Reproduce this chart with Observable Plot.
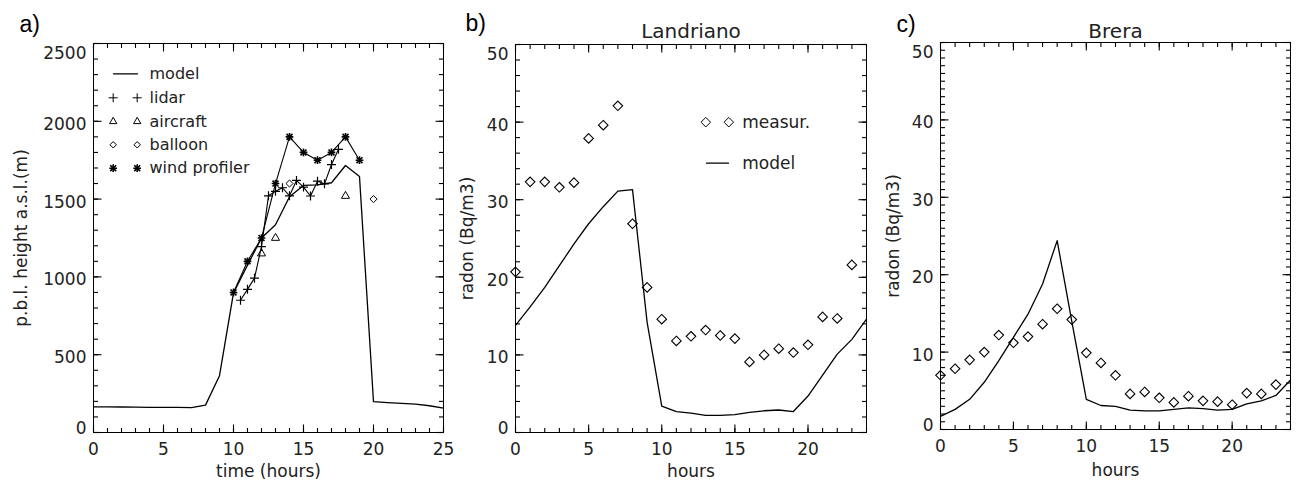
<!DOCTYPE html>
<html>
<head>
<meta charset="utf-8">
<script src="https://cdn.jsdelivr.net/npm/d3@7"></script>
<script src="https://cdn.jsdelivr.net/npm/@observablehq/plot@0.6"></script>
<style>
html, body { margin: 0; padding: 0; background: #fff; }
#chart { position: relative; width: 1296px; height: 485px; overflow: hidden; background: #fff; }
#chart > .panel { position: absolute; top: 0; }
svg { overflow: visible; }
</style>
</head>
<body>
<div id="chart"></div>
<script>
// ---------------- data ----------------
// Panel a: boundary layer height (m)
const modelHoursA = [0,1,2,3,4,5,6,7,8,9,10,11,12,13,14,15,16,17,18,19,20,21,22,23,24,25];
const pblModel    = [165,165,164,163,162,162,161,160,176,365,897,1075,1250,1335,1515,1588,1592,1605,1716,1645,198,192,187,182,172,157];
const lidarHours  = [10.5,11,11.5,12,12.5,13,13.5,14,14.5,15,15.5,16,16.5,17,17.5];
const lidarPbl    = [850,920,992,1195,1521,1550,1573,1521,1620,1577,1520,1615,1598,1722,1820];
const aircraftHours = [12,13,18];
const aircraftPbl   = [1150,1250,1520];
const balloonHours  = [14,20];
const balloonPbl    = [1600,1500];
const windHours = [10,11,12,13,14,15,16,17,18,19];
const windPbl   = [900,1100,1250,1600,1900,1800,1750,1800,1900,1750];

// Panel b: Landriano radon (Bq/m3)
const measHours = [0,1,2,3,4,5,6,7,8,9,10,11,12,13,14,15,16,17,18,19,20,21,22,23];
const modelHours = [0,1,2,3,4,5,6,7,8,9,10,11,12,13,14,15,16,17,18,19,20,21,22,23,24];
const landrianoMeas  = [20.7,32.3,32.3,31.6,32.2,37.9,39.6,42.1,26.9,18.7,14.6,11.8,12.4,13.2,12.5,12.1,9.1,10.0,10.8,10.3,11.3,14.9,14.7,21.6];
const landrianoModel = [13.8,16.2,18.7,21.5,24.3,26.9,29.1,31.1,31.3,14.2,3.4,2.7,2.5,2.2,2.2,2.3,2.6,2.8,2.9,2.7,4.7,7.4,10.1,12.0,14.6];

// Panel c: Brera radon (Bq/m3)
const breraMeas  = [7.0,7.85,9.0,10.0,12.2,11.2,12.0,13.6,15.6,14.2,9.9,8.6,7.0,4.6,4.85,4.1,3.5,4.3,3.7,3.6,3.2,4.7,4.6,5.8];
const breraModel = [1.7,2.6,3.9,6.1,8.9,11.9,14.9,18.8,24.4,14.0,3.9,3.1,3.0,2.5,2.4,2.4,2.6,2.8,2.7,2.5,2.6,3.3,3.7,4.4,6.4];

// tick values
const xMajorA = [0,5,10,15,20,25];
const xMinorA = d3.range(0, 26, 1);
const yMajorA = [0,500,1000,1500,2000,2500];
const yMinorA = d3.range(0, 2501, 100);
const xMajorR = [0,5,10,15,20];
const xMinorR = d3.range(0, 25, 1);
const yMajorR = [0,10,20,30,40,50];
const yMinorB = d3.range(0, 51, 2);
const yMinorC = d3.range(0, 51, 1);

// legend labels
const legendA = ["model", "lidar", "aircraft", "balloon", "wind profiler"];
const legendB = ["measur.", "model"];

// ---------------- helpers ----------------
const FONT = "DejaVu Sans";
const INK = "#000";
const TXT = "#222";
const rows = (xs, ys) => xs.map((x, i) => ({x, y: ys[i]}));
const lineShape = {draw(context, l) { context.moveTo(0, 0); context.lineTo(0, -l); }};
// tick glyphs (fixed pixel length, pointing into the frame)
const seg = (dx, dy) => ({draw(context) { context.moveTo(0, 0); context.lineTo(dx, dy); }});

function frameAxes({xMajor, xMinor, yMajor, yMinor, xDom, yDom}) {
  const s = {x: "x", y: "y", stroke: INK, fill: "none", strokeWidth: 1.1};
  const yTop = yMajor[yMajor.length - 1], yBot = yMajor[0];
  const yMid = yMajor.filter(v => v !== yTop && v !== yBot);
  const lab = {tickSize: 0, label: null, fill: TXT, tickFormat: d => String(d), fontSize: 17};
  const minor = 4.5, major = 8;
  const atX = (vals, y) => vals.map(x => ({x, y}));
  const atY = (vals, x) => vals.map(y => ({x, y}));
  return [
    Plot.frame({stroke: INK, fill: "none", strokeWidth: 1}),
    Plot.dot(atX(xMinor, yDom[0]), {...s, symbol: seg(0, -minor)}),
    Plot.dot(atX(xMinor, yDom[1]), {...s, symbol: seg(0, minor)}),
    Plot.dot(atX(xMajor, yDom[0]), {...s, symbol: seg(0, -major)}),
    Plot.dot(atX(xMajor, yDom[1]), {...s, symbol: seg(0, major)}),
    Plot.dot(atY(yMinor, xDom[0]), {...s, symbol: seg(minor, 0)}),
    Plot.dot(atY(yMinor, xDom[1]), {...s, symbol: seg(-minor, 0)}),
    Plot.dot(atY(yMajor, xDom[0]), {...s, symbol: seg(major, 0)}),
    Plot.dot(atY(yMajor, xDom[1]), {...s, symbol: seg(-major, 0)}),
    Plot.axisX(xMajor, {...lab, anchor: "bottom", tickPadding: 10}),
    Plot.axisY(yMid, {...lab, anchor: "left", tickPadding: 7, dy: 3}),
    Plot.axisY([yTop], {...lab, anchor: "left", tickPadding: 7, dy: 10}),
    Plot.axisY([yBot], {...lab, anchor: "left", tickPadding: 7, dy: -4})
  ];
}

function mount(svg, left) {
  const d = document.createElement("div");
  d.className = "panel";
  d.style.left = left + "px";
  d.appendChild(svg);
  document.getElementById("chart").appendChild(d);
}

const baseStyle = {fontFamily: FONT, fontSize: "17px", color: TXT, background: "transparent", overflow: "visible"};
const txt = (s, o) => Plot.text([s], {text: d => d, fill: TXT, fontFamily: FONT, fontSize: 17, lineAnchor: "middle", ...o});

// ---------------- panel a ----------------
const model = rows(modelHoursA, pblModel);
const lidar = rows(lidarHours, lidarPbl);
const aircraft = rows(aircraftHours, aircraftPbl);
const balloon = rows(balloonHours, balloonPbl);
const wind = rows(windHours, windPbl);

const legRowsA = [30.3, 54.3, 78, 101.3, 124.7];
const symA = [null, "plus", "triangle", "diamond2", "star"];

const legendMarksA = [];
legendA.forEach((name, i) => {
  const dy = legRowsA[i];
  legendMarksA.push(txt(name, {frameAnchor: "top-left", dx: 56, dy, textAnchor: "start", fontSize: 16}));
  if (i === 0) {
    legendMarksA.push(Plot.vector([0], {frameAnchor: "top-left", dx: 20, dy, length: 24, rotate: 90, anchor: "start", shape: lineShape, stroke: INK, strokeWidth: 1.3}));
  } else {
    for (const dx of [19.7, 43.7]) {
      if (symA[i] === "star") {
        legendMarksA.push(Plot.dot([0], {frameAnchor: "top-left", dx, dy, symbol: "plus", r: 2.6, stroke: INK, strokeWidth: 1.6}));
        legendMarksA.push(Plot.dot([0], {frameAnchor: "top-left", dx, dy, symbol: "times", r: 2.8, stroke: INK, strokeWidth: 1.6}));
      } else {
        const r = symA[i] === "plus" ? 3 : symA[i] === "triangle" ? 2.7 : 2.9;
        legendMarksA.push(Plot.dot([0], {frameAnchor: "top-left", dx, dy, symbol: symA[i], r, stroke: INK, fill: "none", strokeWidth: 1}));
      }
    }
  }
});

const plotA = Plot.plot({
  width: 460, height: 485,
  marginLeft: 93, marginRight: 17, marginTop: 43, marginBottom: 53,
  x: {domain: [0, 25], label: null},
  y: {domain: [0, 2500], label: null},
  style: baseStyle,
  marks: [
    ...frameAxes({xMajor: xMajorA, xMinor: xMinorA, yMajor: yMajorA, yMinor: yMinorA, xDom: [0, 25], yDom: [0, 2500]}),
    Plot.line(model, {x: "x", y: "y", stroke: INK, strokeWidth: 1.3}),
    Plot.line(lidar, {x: "x", y: "y", stroke: INK, strokeWidth: 1.1}),
    Plot.dot(lidar, {x: "x", y: "y", symbol: "plus", r: 3, stroke: INK, strokeWidth: 1.2}),
    Plot.line(wind, {x: "x", y: "y", stroke: INK, strokeWidth: 1.1}),
    Plot.dot(wind, {x: "x", y: "y", symbol: "plus", r: 2.6, stroke: INK, strokeWidth: 1.6}),
    Plot.dot(wind, {x: "x", y: "y", symbol: "times", r: 2.8, stroke: INK, strokeWidth: 1.6}),
    Plot.dot(aircraft, {x: "x", y: "y", symbol: "triangle", r: 3, stroke: INK, fill: "none", strokeWidth: 1}),
    Plot.dot(balloon, {x: "x", y: "y", symbol: "diamond2", r: 3.2, stroke: INK, fill: "none", strokeWidth: 1}),
    ...legendMarksA,
    Plot.text(["a)"], {text: d => d, frameAnchor: "top-left", dx: -74, dy: -18.7, textAnchor: "start", lineAnchor: "middle", fontFamily: "Liberation Sans", fontSize: 23, fill: "#000"}),
    txt("p.b.l. height a.s.l.(m)", {frameAnchor: "left", dx: -72, rotate: -90, textAnchor: "middle"}),
    txt("time (hours)", {frameAnchor: "bottom", dy: 39, textAnchor: "middle"})
  ]
});
mount(plotA, 0);

// ---------------- panels b and c ----------------
function radonPanel({meas, mod, title, letter, width, ml, mr, mt, mb, yMinor, letterDx, letterDy, titleDy, yTitleDx, xTitleDy, legend}) {
  const height = 485;
  const m = rows(measHours, meas);
  const l = rows(modelHours, mod);
  const legendMarks = legend ? [
    Plot.dot([0], {frameAnchor: "top-left", dx: 190.3, dy: 77.7, symbol: "diamond2", r: 4.3, stroke: INK, fill: "none", strokeWidth: 1}),
    Plot.dot([0], {frameAnchor: "top-left", dx: 213.3, dy: 77.7, symbol: "diamond2", r: 4.3, stroke: INK, fill: "none", strokeWidth: 1}),
    txt(legendB[0], {frameAnchor: "top-left", dx: 226.7, dy: 77.7, textAnchor: "start"}),
    Plot.vector([0], {frameAnchor: "top-left", dx: 191, dy: 118.7, length: 22, rotate: 90, anchor: "start", shape: lineShape, stroke: INK, strokeWidth: 1.3}),
    txt(legendB[1], {frameAnchor: "top-left", dx: 226.7, dy: 118.7, textAnchor: "start"})
  ] : [];
  return Plot.plot({
    width, height,
    marginLeft: ml, marginRight: mr, marginTop: mt, marginBottom: mb,
    x: {domain: [0, 24], label: null},
    y: {domain: [0, 50], label: null},
    style: baseStyle,
    marks: [
      ...frameAxes({xMajor: xMajorR, xMinor: xMinorR, yMajor: yMajorR, yMinor, xDom: [0, 24], yDom: [0, 50]}),
      Plot.line(l, {x: "x", y: "y", stroke: INK, strokeWidth: 1.3}),
      Plot.dot(m, {x: "x", y: "y", symbol: "diamond2", r: 4.3, stroke: INK, fill: "none", strokeWidth: 1.1}),
      ...legendMarks,
      Plot.text([letter], {text: d => d, frameAnchor: "top-left", dx: letterDx, dy: letterDy, textAnchor: "start", lineAnchor: "middle", fontFamily: "Liberation Sans", fontSize: 23, fill: "#000"}),
      txt(title, {frameAnchor: "top", dy: titleDy, textAnchor: "middle", fontSize: 20}),
      txt("radon (Bq/m3)", {frameAnchor: "left", dx: yTitleDx, rotate: -90, textAnchor: "middle"}),
      txt("hours", {frameAnchor: "bottom", dy: xTitleDy, textAnchor: "middle"})
    ]
  });
}

mount(radonPanel({meas: landrianoMeas, mod: landrianoModel, title: "Landriano", letter: "b)",
  width: 420, ml: 55, mr: 14, mt: 44, mb: 53, yMinor: yMinorB,
  letterDx: -50, letterDy: -20.7, titleDy: -12.7, yTitleDx: -48, xTitleDy: 39, legend: true}), 460);

mount(radonPanel({meas: breraMeas, mod: breraModel, title: "Brera", letter: "c)",
  width: 416, ml: 60, mr: 6, mt: 42, mb: 56, yMinor: yMinorC,
  letterDx: -44, letterDy: -17.7, titleDy: -10.7, yTitleDx: -47, xTitleDy: 41, legend: false}), 880);
</script>
</body>
</html>
